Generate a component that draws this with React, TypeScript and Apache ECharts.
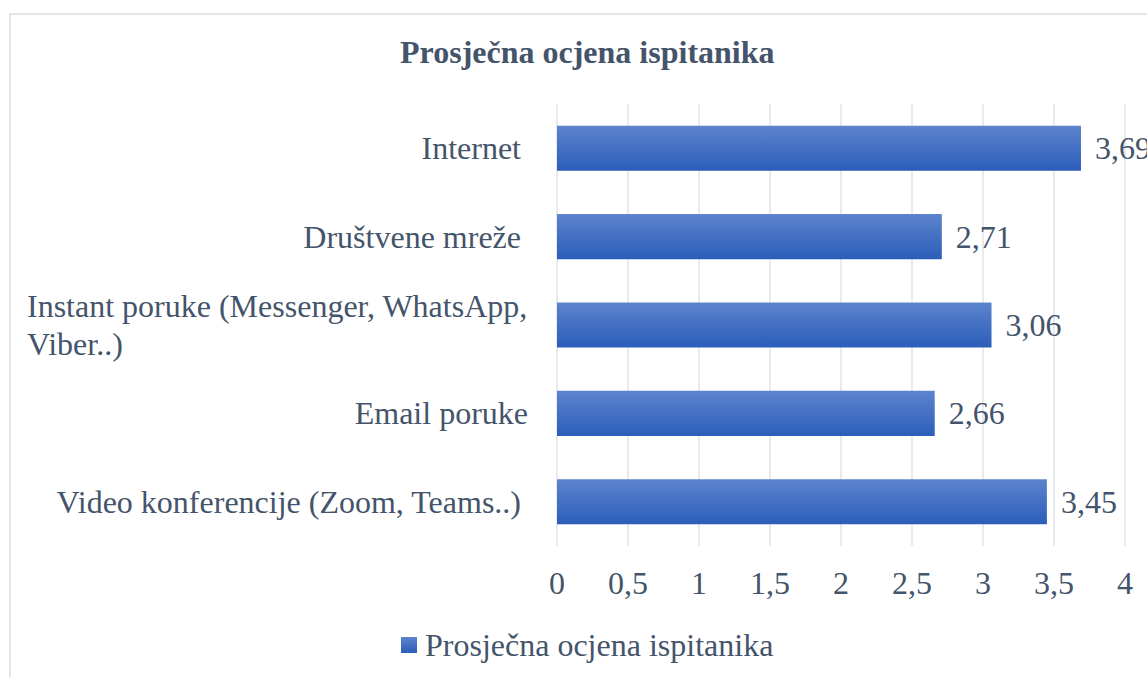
import React, { useEffect, useRef } from "react";
import * as echarts from "echarts";

const categories = [
  "Internet ",
  "Društvene mreže ",
  "Instant poruke (Messenger, WhatsApp, Viber..)",
  "Email poruke",
  "Video konferencije (Zoom, Teams..) ",
];
const values = [3.69, 2.71, 3.06, 2.66, 3.45];
const seriesName = "Prosječna ocjena ispitanika";
const titleText = "Prosječna ocjena ispitanika";

const FONT = '"Liberation Serif", "Times New Roman", serif';
const TEXT = "#44546a";
const FS = 32;
const comma = (v: number) => String(v).replace(".", ",");

export default function App() {
  const ref = useRef<HTMLDivElement>(null);
  useEffect(() => {
    if (!ref.current) return;
    const chart = echarts.init(ref.current, undefined, { renderer: "svg" });
    chart.setOption({
      animation: false,
      backgroundColor: "#ffffff",
      textStyle: { fontFamily: FONT },
      graphic: [
        {
          type: "rect",
          shape: { x: 10, y: 14, width: 1200, height: 700 },
          style: { fill: "none", stroke: "#e1e4e8", lineWidth: 2 },
          silent: true,
          z: -1,
        },
      ],
      title: {
        text: titleText,
        left: 400,
        top: 36,
        padding: 0,
        textStyle: { fontFamily: FONT, fontWeight: "bold", fontSize: 32, color: TEXT },
      },
      legend: {
        left: 401,
        top: 629,
        padding: 0,
        icon: "rect",
        itemWidth: 16,
        itemHeight: 16,
        textStyle: { fontFamily: FONT, fontSize: FS, color: TEXT, padding: [0, 0, 0, 3] },
        data: [seriesName],
      },
      grid: { left: 557, right: 22, top: 104, bottom: 131, containLabel: false },
      xAxis: {
        type: "value",
        min: 0,
        max: 4,
        interval: 0.5,
        axisLine: { show: false },
        axisTick: { show: false },
        splitLine: { show: true, lineStyle: { color: "#e0e3e8", width: 1.5 } },
        axisLabel: {
          margin: 21,
          fontFamily: FONT,
          fontSize: FS,
          color: TEXT,
          formatter: (v: number) => comma(v),
        },
      },
      yAxis: {
        type: "category",
        inverse: true,
        data: categories,
        axisLine: { show: false },
        axisTick: { show: false },
        axisLabel: {
          margin: 29,
          fontFamily: FONT,
          fontSize: FS,
          color: TEXT,
          formatter: (v: string) => {
            if (v.indexOf("WhatsApp, ") >= 0) {
              const i = v.indexOf("WhatsApp, ") + "WhatsApp,".length;
              return "{w|" + v.slice(0, i) + "}\n{w|" + v.slice(i + 1) + "}";
            }
            if (v.endsWith(" ")) {
              return "{p|" + v.trimEnd() + "}";
            }
            return v;
          },
          rich: {
            w: {
              width: 501,
              align: "left",
              fontFamily: FONT,
              fontSize: FS,
              lineHeight: 38,
              color: TEXT,
            },
            p: {
              padding: [0, 7, 0, 0],
              fontFamily: FONT,
              fontSize: FS,
              color: TEXT,
            },
          },
        },
      },
      series: [
        {
          name: seriesName,
          type: "bar",
          data: values,
          barCategoryGap: "49%",
          itemStyle: {
            color: new echarts.graphic.LinearGradient(0, 0, 0, 1, [
              { offset: 0, color: "#5d84cd" },
              { offset: 1, color: "#2b5db9" },
            ]),
          },
          label: {
            show: true,
            position: "right",
            distance: 14,
            fontFamily: FONT,
            fontSize: FS,
            color: TEXT,
            formatter: (p: any) => comma(p.value),
          },
        },
      ],
    });
    return () => chart.dispose();
  }, []);
  return (
    <div
      ref={ref}
      style={{ position: "fixed", left: 0, top: 0, width: 1147, height: 677 }}
    />
  );
}
